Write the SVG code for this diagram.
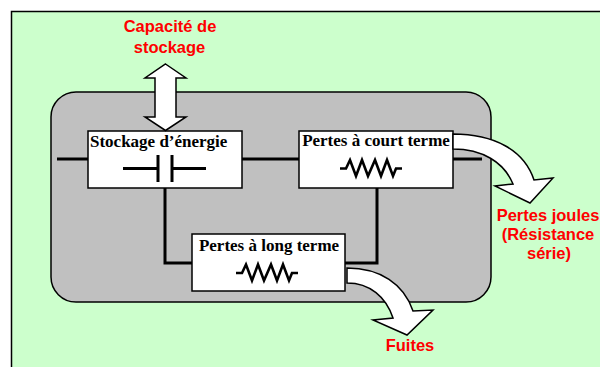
<svg xmlns="http://www.w3.org/2000/svg" width="600" height="367" viewBox="0 0 600 367">
<defs>
<style>
.box{fill:#fff;stroke:#000;stroke-width:1.5}
.wire{fill:none;stroke:#000;stroke-width:3}
.res{fill:none;stroke:#000;stroke-width:2.6;stroke-linejoin:miter}
.arrow{fill:#fff;stroke:#000;stroke-width:1.5;stroke-linejoin:miter}
.lbl{font-family:"Liberation Serif","Times New Roman",serif;font-weight:bold;font-size:17px;fill:#000}
.red{font-family:"Liberation Sans",Arial,sans-serif;font-weight:bold;font-size:16.5px;fill:#ff0000;text-anchor:middle}
</style>
</defs>
<rect width="600" height="367" fill="#fff"/>
<rect x="11.5" y="11.5" width="600" height="370" fill="#ccffcc" stroke="#000" stroke-width="1.5"/>
<g id="module">
<rect x="51" y="92" width="440" height="210" rx="25" ry="25" fill="#c0c0c0" stroke="#000" stroke-width="1.5"/>
</g>
<g id="connectors">
<path class="wire" d="M57,159 H88 M242,159 H299 M453,159 H482"/>
<path class="wire" d="M165,188 V263 H192"/>
<path class="wire" d="M377,188 V263 H345"/>
</g>
<g id="stockage">
<rect class="box" x="88" y="131" width="154" height="57"/>
<text class="lbl" x="90" y="147">Stockage d’énergie</text>
<path class="wire" d="M123,168.5 H158 M158,155 V182 M172,155 V182 M172,168.5 H206"/>
</g>
<g id="court-terme">
<rect class="box" x="299" y="131" width="154" height="57"/>
<text class="lbl" x="376" y="146" text-anchor="middle">Pertes à court terme</text>
<path class="res" d="M340,168.5 H346 L350,160 L356,176 L362,160 L368,176 L375,160 L381,176 L387,160 L393,176 L396,168.5 H402"/>
</g>
<g id="long-terme">
<rect class="box" x="192" y="234" width="153" height="57"/>
<text class="lbl" x="269" y="250.5" text-anchor="middle">Pertes à long terme</text>
<path class="res" d="M236,273 H242 L246,264.5 L252,280.5 L258,264.5 L264,280.5 L271,264.5 L277,280.5 L283,264.5 L289,280.5 L292,273 H298"/>
</g>
<g id="arrows">
<path id="arrow-capacite" class="arrow" d="M165.5,64 L186,78 L176,78 L176,117 L186,117 L165.5,130.5 L145,117 L155,117 L155,78 L145,78 Z"/>
<path id="arrow-joules" class="arrow" d="M453,134 C494,134 524,150 534,180 L553,178 L530,203 L495,186 L513,184 C504,162 482,149 453,149 Z"/>
<path id="arrow-fuites" class="arrow" d="M347,268 C380,268 404,284 413,311 L433,310 L407,335 L373,320 L393,318 C386,297 370,283 347,283 Z"/>
</g>
<g id="labels">
<text class="red" x="170" y="32">Capacité de</text>
<text class="red" x="169.5" y="52.5">stockage</text>
<text class="red" x="548" y="221">Pertes joules</text>
<text class="red" x="548" y="240">(Résistance</text>
<text class="red" x="549" y="259">série)</text>
<text class="red" x="410" y="351">Fuites</text>
</g>
</svg>
